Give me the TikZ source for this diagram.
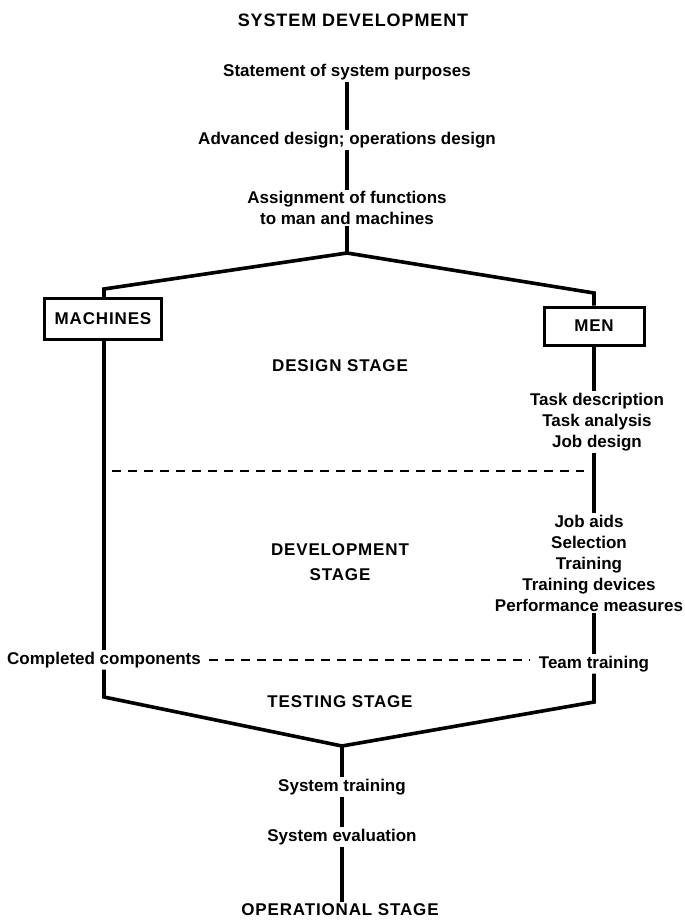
\documentclass[tikz,border=0pt]{standalone}
\usepackage{fontspec}
\setmainfont{Liberation Sans}
\newfontfamily\capsfont{Liberation Sans}[LetterSpace=5]
\begin{document}
\begin{tikzpicture}[x=1pt,y=-1pt,
  txt/.style={font=\fontsize{17}{21}\selectfont\bfseries, inner sep=1.5pt, align=center},
  capstext/.style={font=\fontsize{17}{25}\selectfont\capsfont\bfseries, inner sep=1.5pt, align=center},
  box/.style={capstext, draw, line width=3pt, inner sep=0pt},
  flow/.style={line width=3.6pt, line join=miter},
  stagesep/.style={line width=2.2pt, dash pattern=on 9pt off 7pt}]
\useasboundingbox (0,0) rectangle (685,924);

% top of the chart
\node[capstext, font=\fontsize{18}{22}\selectfont\capsfont\bfseries] (title) at (353,20) {SYSTEM DEVELOPMENT};
\node[txt] (s1) at (347,72) {Statement of system purposes};
\node[txt] (s2) at (347,140) {Advanced design; operations design};
\node[txt] (s3) at (347,208) {Assignment of functions\\to man and machines};
\coordinate (apex) at (347,253);
\coordinate (lc) at (104,289);
\coordinate (rc) at (594,293);

% the two branches
\node[box, minimum width=117pt, minimum height=41pt] (mach) at (103,319) {MACHINES};
\node[box, minimum width=100pt, minimum height=38pt] (men) at (594,326) {MEN};

% stage labels
\node[capstext] (design) at (340,366) {DESIGN STAGE};
\node[capstext] (devel) at (340,562) {DEVELOPMENT\\STAGE};
\node[capstext] (testing) at (340,702) {TESTING STAGE};

% men column
\node[txt] (task) at (597,422) {Task description\\Task analysis\\Job design};
\node[txt] (job) at (589,563) {Job aids\\Selection\\Training\\Training devices\\Performance measures};
\node[txt] (team) at (594,664) {Team training};

% machines column
\node[txt] (cc) at (104,660) {Completed components};

% bottom of the chart
\coordinate (blc) at (104,697);
\coordinate (brc) at (594,702);
\coordinate (bapex) at (342,746);
\node[txt] (strain) at (342,787) {System training};
\node[txt] (seval) at (342,837) {System evaluation};
\node[capstext] (oper) at (340,910) {OPERATIONAL STAGE};

% flow lines
\draw[flow] (s1.south) -- (s2.north);
\draw[flow] (s2.south) -- (s3.north);
\draw[flow] (s3.south) -- (apex);
\draw[flow] (mach.north -| lc) -- (lc) -- (apex) -- (rc) -- (men.north);
\draw[flow] (mach.south -| lc) -- (cc.north -| lc);
\draw[flow] (men.south) -- (task.north -| men.south);
\draw[flow] (task.south -| men.south) -- (job.north -| men.south);
\draw[flow] (job.south -| men.south) -- (team.north);
\draw[flow] (cc.south -| lc) -- (blc) -- (bapex) -- (brc) -- (team.south);
\draw[flow] (bapex) -- (strain.north);
\draw[flow] (strain.south) -- (seval.north);
\draw[flow] (seval.south) -- (seval.south |- oper.north);

% stage boundaries
\coordinate (d1a) at (112,471);
\coordinate (d1b) at (584,471);
\draw[stagesep] (d1a) -- (d1b);
\draw[stagesep, shorten <=6pt, shorten >=8pt] (cc.east) -- (cc.east -| team.west);
\end{tikzpicture}
\end{document}
